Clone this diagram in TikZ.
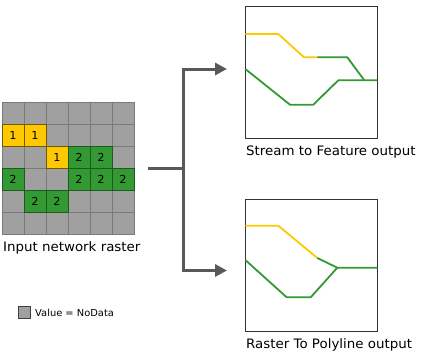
\documentclass[tikz,border=0pt]{standalone}
\usepackage{fontspec}
\setmainfont{DejaVu Sans}[FakeStretch=1.03]
\usetikzlibrary{arrows.meta}
\definecolor{nodata}{HTML}{A0A0A0}
\definecolor{gridln}{HTML}{7A7A7A}
\definecolor{ylw}{HTML}{FFC800}
\definecolor{ylwb}{HTML}{6E5A00}
\definecolor{grn}{HTML}{339933}
\definecolor{grnb}{HTML}{1E5A1E}
\definecolor{arr}{HTML}{595959}
\definecolor{lgrn}{HTML}{339933}
\begin{document}
\begin{tikzpicture}[x=1pt,y=-1pt,
  cellg/.style={fill=nodata,draw=gridln,line width=0.8pt},
  celly/.style={fill=ylw,draw=ylwb,line width=0.8pt},
  cellgr/.style={fill=grn,draw=grnb,line width=0.8pt},
  val/.style={font=\fontsize{11}{13}\selectfont,text=black,inner sep=0pt},
  caption/.style={font=\fontsize{13}{15}\selectfont,text=black,inner sep=0pt,anchor=west},
  outbox/.style={draw=black!80,line width=0.9pt,fill=white},
  yl/.style={draw=ylw,line width=1.8pt,line join=round},
  gl/.style={draw=lgrn,line width=1.8pt,line join=round},
  conn/.style={draw=arr,line width=3pt},
  arrow/.style={conn,-{Triangle[length=12pt,width=12pt]}}]
\useasboundingbox (0,0) rectangle (430,359);
% grid
\foreach \r in {0,...,5}{
  \foreach \c in {0,...,5}{
    \path[cellg] ({2+22*\c},{102+22*\r}) rectangle ++(22,22);
  }
}
\foreach \c/\r in {0/1,1/1,2/2}{
  \path[celly] ({2+22*\c},{102+22*\r}) rectangle ++(22,22);
  \node[val] at ({13+22*\c},{113+22*\r}) {1};
}
\foreach \c/\r in {3/2,4/2,0/3,3/3,4/3,5/3,1/4,2/4}{
  \path[cellgr] ({2+22*\c},{102+22*\r}) rectangle ++(22,22);
  \node[val] at ({13+22*\c},{113+22*\r}) {2};
}
\node[caption] (inlbl) at (3,247.5) {Input network raster};
% legend
\node[draw=black!75,fill=nodata,line width=0.8pt,minimum size=12pt,inner sep=0pt] (leg) at (24,312) {};
\node[font=\fontsize{9.6}{11}\selectfont,anchor=west,inner sep=0pt] (legt) at (35,312.5) {Value = NoData};
% connectors
\coordinate (s) at (148,168.5);
\coordinate (j) at (183.5,168.5);
\coordinate (t1) at (183.5,69);
\coordinate (t2) at (183.5,270.5);
\coordinate (e1) at (227,69);
\coordinate (e2) at (227,270.5);
\draw[conn] (s) -- (j);
\draw[conn] (t1) -- (t2);
\draw[arrow] ([xshift=-1.5pt]t1) -- (e1);
\draw[arrow] ([xshift=-1.5pt]t2) -- (e2);
% top box
\path[outbox] (245.3,6) rectangle (377.3,138);
\draw[yl] (245.3,34) -- (278.3,34) -- (304,57.3) -- (317.3,57.3);
\draw[gl] (317.3,57.3) -- (347.3,57.3) -- (364.3,80.3);
\draw[gl] (245.3,69) -- (290,104.7) -- (313.3,104.7) -- (338.3,80.3) -- (377.3,80.3);
\node[caption] (c1) at (246,152) {Stream to Feature output};
% bottom box
\path[outbox] (245.3,199.3) rectangle (377.3,331.3);
\draw[yl] (245.3,225.7) -- (278.3,225.7) -- (317.3,258);
\draw[gl] (317.3,258) -- (337.3,267.7) -- (377.3,267.7);
\draw[gl] (245.3,260) -- (286.7,297.3) -- (310.7,297.3) -- (337.3,267.7);
\node[caption] (c2) at (246,345) {Raster To Polyline output};
\end{tikzpicture}
\end{document}
